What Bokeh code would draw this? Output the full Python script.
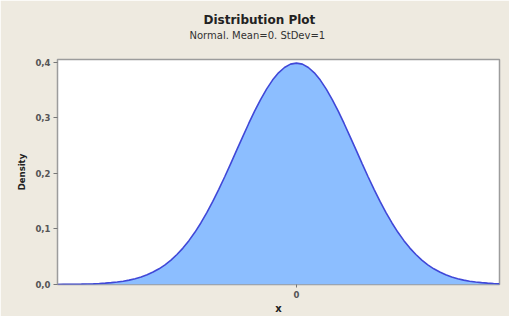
from bokeh.plotting import figure
from bokeh.models import Title, FixedTicker, Range1d
from bokeh.embed import file_html
from bokeh.resources import INLINE

# Data (Normal, mean 0, sd 1 density curve)
x_vals = [-4.0, -3.9, -3.8, -3.7, -3.6, -3.5, -3.4, -3.3, -3.2, -3.1,
          -3.0, -2.9, -2.8, -2.7, -2.6, -2.5, -2.4, -2.3, -2.2, -2.1,
          -2.0, -1.9, -1.8, -1.7, -1.6, -1.5, -1.4, -1.3, -1.2, -1.1,
          -1.0, -0.9, -0.8, -0.7, -0.6, -0.5, -0.4, -0.3, -0.2, -0.1,
          0.0, 0.1, 0.2, 0.3, 0.4, 0.5, 0.6, 0.7, 0.8, 0.9,
          1.0, 1.1, 1.2, 1.3, 1.4, 1.5, 1.6, 1.7, 1.8, 1.9,
          2.0, 2.1, 2.2, 2.3, 2.4, 2.5, 2.6, 2.7, 2.8, 2.9,
          3.0, 3.1, 3.2, 3.3, 3.4]
density = [0.0001, 0.0002, 0.0003, 0.0004, 0.0006, 0.0009, 0.0012, 0.0017, 0.0024, 0.0033,
           0.0044, 0.0060, 0.0079, 0.0104, 0.0136, 0.0175, 0.0224, 0.0283, 0.0355, 0.0440,
           0.0540, 0.0656, 0.0790, 0.0940, 0.1109, 0.1295, 0.1497, 0.1714, 0.1942, 0.2179,
           0.2420, 0.2661, 0.2897, 0.3123, 0.3332, 0.3521, 0.3683, 0.3814, 0.3910, 0.3970,
           0.3989, 0.3970, 0.3910, 0.3814, 0.3683, 0.3521, 0.3332, 0.3123, 0.2897, 0.2661,
           0.2420, 0.2179, 0.1942, 0.1714, 0.1497, 0.1295, 0.1109, 0.0940, 0.0790, 0.0656,
           0.0540, 0.0440, 0.0355, 0.0283, 0.0224, 0.0175, 0.0136, 0.0104, 0.0079, 0.0060,
           0.0044, 0.0033, 0.0024, 0.0017, 0.0012]
y_ticks = [0.0, 0.1, 0.2, 0.3, 0.4]
y_tick_labels = ["0,0", "0,1", "0,2", "0,3", "0,4"]
x_ticks = [0]
x_tick_labels = ["0"]
title_text = "Distribution Plot"
subtitle_text = "Normal. Mean=0. StDev=1"

BEIGE = "#EEEAE0"

p = figure(width=509, height=316, output_backend="svg", toolbar_location=None,
           x_range=Range1d(-4.0, 3.4), y_range=Range1d(0, 0.4054),
           min_border_left=57, min_border_right=10, min_border_top=59, min_border_bottom=31)
p.border_fill_color = BEIGE
p.background_fill_color = "white"
p.outline_line_color = "#9C9C9C"
p.outline_line_width = 1.5
p.xgrid.visible = False
p.ygrid.visible = False

p.varea(x=x_vals, y1=0, y2=density, fill_color="#8CBEFF")
p.line(x=x_vals, y=density, line_color="#4048D8", line_width=1.6)

# y axis
ya = p.yaxis[0]
ya.ticker = FixedTicker(ticks=y_ticks)
ya.major_label_overrides = {t: l for t, l in zip(y_ticks, y_tick_labels)}
ya.axis_label = "Density"
ya.axis_label_text_font = "DejaVu Sans"
ya.axis_label_text_font_style = "bold"
ya.axis_label_text_font_size = "8.5px"
ya.axis_label_text_color = "#222222"
ya.axis_label_standoff = 5
ya.major_label_text_font = "DejaVu Sans"
ya.major_label_text_font_size = "8.5px"
ya.major_label_text_font_style = "bold"
ya.major_label_text_color = "#555555"
ya.major_label_standoff = 3
ya.major_tick_out = 4
ya.major_tick_in = 0
ya.minor_tick_line_color = None
ya.major_tick_line_color = "#777777"
ya.axis_line_color = "#9C9C9C"

# x axis
xa = p.xaxis[0]
xa.ticker = FixedTicker(ticks=x_ticks)
xa.major_label_overrides = {t: l for t, l in zip(x_ticks, x_tick_labels)}
xa.axis_label = "x"
xa.axis_label_text_font = "DejaVu Sans"
xa.axis_label_text_font_style = "bold"
xa.axis_label_text_font_size = "10px"
xa.axis_label_text_color = "#222222"
xa.axis_label_standoff = 2
xa.major_label_text_font = "DejaVu Sans"
xa.major_label_text_font_size = "8.5px"
xa.major_label_text_font_style = "bold"
xa.major_label_text_color = "#555555"
xa.major_label_standoff = 3
xa.major_tick_out = 3
xa.major_tick_in = 0
xa.minor_tick_line_color = None
xa.major_tick_line_color = "#777777"
xa.axis_line_color = None

# titles (first added sits nearest to the frame); a blank spacer first
p.add_layout(Title(text=" ", text_font_size="1px", standoff=16), "above")
p.add_layout(Title(text=subtitle_text, align="left", offset=132, standoff=0,
                   text_font="DejaVu Sans", text_font_style="normal",
                   text_font_size="10px", text_color="#333333"), "above")
p.add_layout(Title(text=title_text, align="left", offset=146, standoff=2,
                   text_font="DejaVu Sans", text_font_style="bold",
                   text_font_size="12px", text_color="#222222"), "above")

open("out.html", "w").write(file_html(p, INLINE))
